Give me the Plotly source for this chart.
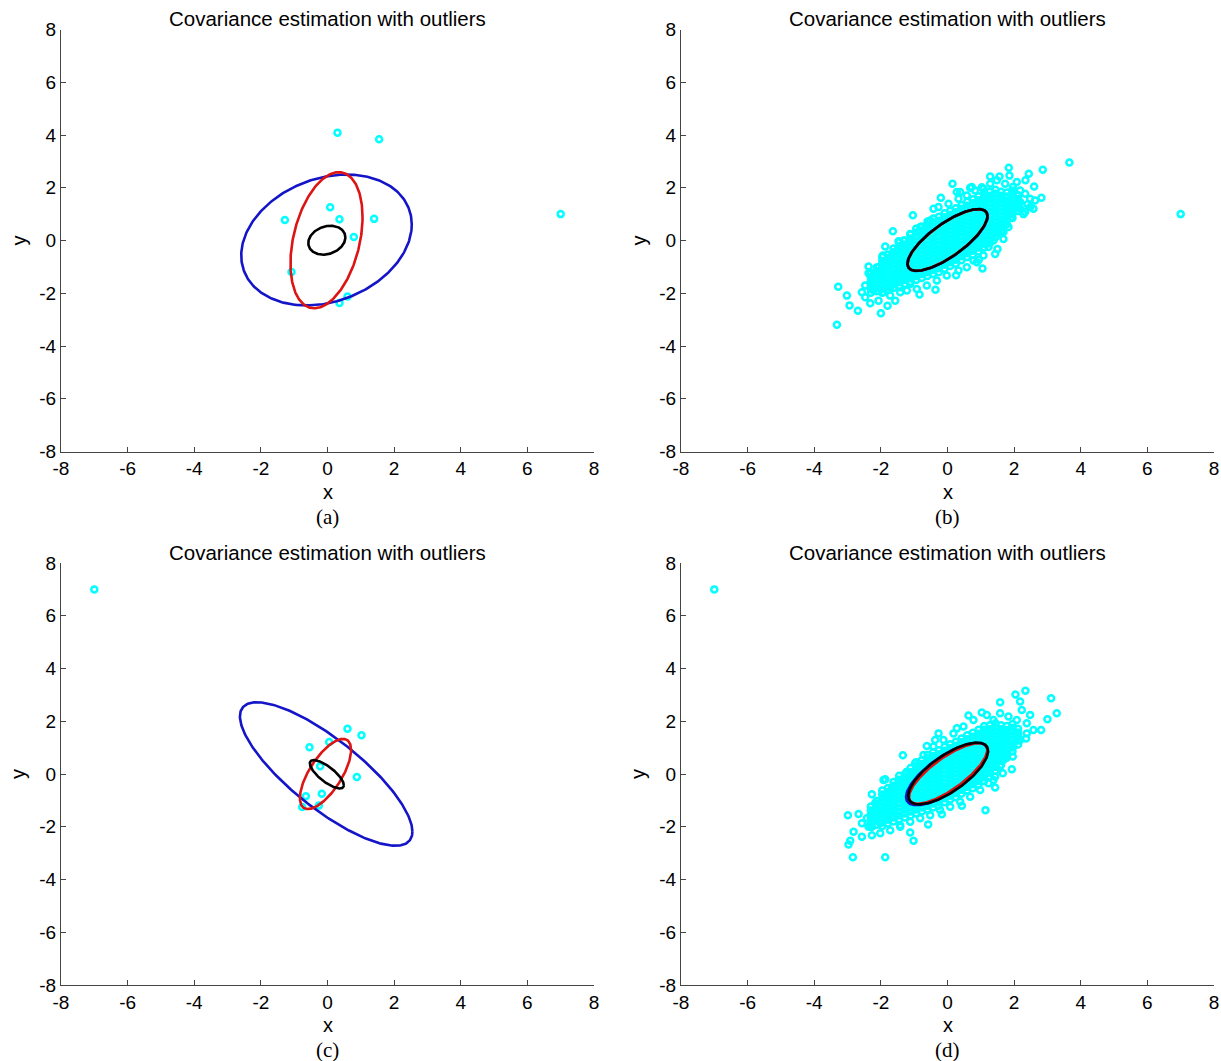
import numpy as np
import plotly.graph_objects as go

# ---------------- data ----------------
# panel (a): few inliers + outlier
a_x = [0.30, 1.55, 0.08, -1.28, 0.36, 1.40, 0.79, -1.08, 0.60, 0.36, 7.0]
a_y = [4.09, 3.84, 1.26, 0.78, 0.81, 0.82, 0.13, -1.19, -2.12, -2.37, 1.0]

# panel (c)
c_x = [0.60, 1.02, -0.54, 0.05, -0.22, 0.88, -0.17, -0.65, -0.26, -0.76, -7.0]
c_y = [1.72, 1.47, 1.01, 1.21, 0.29, -0.11, -0.75, -0.84, -1.19, -1.25, 7.0]

# panel (b): scattered (non-core) points
b_pts = [(3.66, 2.96), (2.86, 2.68), (1.84, 2.76), (2.44, 2.53), (1.28, 2.43), (1.56, 2.43), (1.86, 2.46),
         (0.15, 2.15), (2.60, 2.05), (2.34, 2.28), (2.08, 2.22), (2.82, 1.62), (2.63, 1.52), (2.40, 1.37),
         (2.28, 1.00), (2.58, 1.20), (-1.04, 0.96), (-0.20, 1.62), (0.28, 1.84), (0.68, 2.00), (1.03, 2.02),
         (-1.64, 0.35), (-1.47, -0.03), (-1.87, -0.23), (-1.94, -0.57), (-2.37, -0.99), (-2.37, -1.24),
         (-3.28, -1.75), (-3.02, -2.09), (-2.94, -2.46), (-2.69, -2.66), (-3.32, -3.19), (-2.00, -2.76),
         (-2.32, -2.38), (-2.47, -2.15), (-2.07, -2.28), (-1.80, -2.47), (-1.57, -2.28), (-1.72, -2.09),
         (-1.42, -1.96), (-1.22, -1.90), (-0.84, -2.05), (-0.36, -1.87), (0.26, -1.32), (1.05, -1.06),
         (0.78, -0.76), (0.94, -0.73), (1.43, -0.51), (1.50, -0.32), (1.68, 0.06), (1.53, 0.28), (1.68, 0.63),
         (1.43, 0.51), (1.78, 1.14), (2.03, 1.20), (2.18, 1.46),
         (1.28, 2.15), (1.48, 2.28), (1.73, 2.15), (1.96, 2.03), (2.18, 1.90), (2.33, 1.77), (2.48, 1.58),
         (2.18, 1.20), (2.33, 1.08), (2.48, 1.27), (1.93, 0.89), (1.83, 0.51), (1.68, 0.32), (1.38, 0.00),
         (1.23, -0.25), (1.08, -0.57), (0.88, -0.82), (0.58, -1.01), (0.33, -1.14), (-0.02, -1.33),
         (-0.32, -1.52), (-0.62, -1.71), (-0.92, -1.84), (-1.12, -1.65), (-1.42, -1.77), (-1.72, -1.77),
         (-1.92, -1.96), (-2.22, -1.90), (-2.47, -1.71), (-2.27, -1.52), (-2.57, -1.96), (-2.17, -1.33),
         (-2.07, -1.01), (-1.92, -0.82), (-1.72, -0.63), (-1.52, -0.38), (-1.32, 0.00), (-1.12, 0.25),
         (-0.82, 0.51), (-0.52, 0.76), (-0.42, 1.20), (-0.27, 1.27), (0.03, 1.39), (0.33, 1.58), (0.58, 1.71),
         (0.83, 1.90), (1.08, 1.96), (0.38, 1.84), (0.73, 2.03),
         (7.0, 1.0)]

# panel (d): scattered (non-core) points
d_pts = [(2.34, 3.16), (2.04, 3.01), (3.11, 2.87), (3.28, 2.30), (3.00, 2.08), (2.81, 1.67), (1.58, 2.72),
         (2.18, 2.75), (2.48, 2.24), (2.23, 2.43), (1.03, 2.33), (0.63, 2.22), (0.28, 1.73), (-0.27, 1.54),
         (-0.62, 1.06), (-1.34, 0.71), (-1.87, -0.20), (-2.27, -0.77), (-2.99, -1.56), (-2.67, -1.52),
         (-2.82, -2.19), (-2.92, -2.53), (-2.97, -2.67), (-2.84, -3.16), (-1.87, -3.16), (-2.57, -2.38),
         (-2.27, -2.32), (-1.02, -2.53), (-1.12, -2.22), (-0.58, -1.91), (-0.17, -1.53), (0.43, -1.20),
         (1.14, -1.37), (1.43, -0.51), (1.38, -0.23), (1.66, 0.03), (1.93, 0.18), (1.96, 0.66), (2.36, 1.35),
         (1.68, 0.53), (-2.42, -1.68), (-2.37, -2.00), (-2.02, -1.87), (-1.62, -1.62), (-1.42, -1.94),
         (1.58, 2.30), (1.83, 2.18), (2.08, 2.05), (2.38, 1.92), (2.58, 1.67), (2.38, 1.54), (2.18, 1.29),
         (1.98, 1.04), (1.78, 0.66), (1.58, 0.28), (1.43, -0.10), (1.23, -0.35), (0.98, -0.61), (0.68, -0.86),
         (0.38, -1.05), (0.08, -1.24), (-0.22, -1.37), (-0.52, -1.56), (-0.82, -1.68), (-1.12, -1.81),
         (-1.42, -2.00), (-1.72, -2.13), (-2.02, -2.25), (-2.27, -2.00), (-2.17, -1.62), (-2.02, -1.24),
         (-1.87, -0.86), (-1.67, -0.54), (-1.47, -0.23), (-1.22, 0.09), (-0.97, 0.41), (-0.72, 0.72),
         (-0.42, 1.04), (-0.12, 1.29), (0.18, 1.54), (0.48, 1.80), (0.78, 2.05), (1.18, 2.24), (1.38, 2.05),
         (-0.37, 1.29), (-1.92, -0.23), (-2.17, -1.11), (-2.57, -1.87),
         (-7.0, 7.0)]

# dense core of the inlier cloud (panels b and d), read column by column: (x, [y values])
core_cols = [
    (-2.30, [-1.98, -1.83, -1.68, -1.53, -1.38, -1.23]),
    (-2.13, [-1.92, -1.77, -1.62, -1.47, -1.32, -1.17, -1.02]),
    (-1.96, [-1.98, -1.83, -1.68, -1.53, -1.38, -1.23, -1.08, -0.93, -0.78, -0.63]),
    (-1.79, [-1.88, -1.73, -1.58, -1.43, -1.28, -1.13, -0.98, -0.83, -0.68, -0.53]),
    (-1.62, [-1.80, -1.65, -1.50, -1.35, -1.20, -1.05, -0.90, -0.75, -0.60, -0.45, -0.30]),
    (-1.45, [-1.72, -1.57, -1.42, -1.27, -1.12, -0.97, -0.82, -0.67, -0.52, -0.37, -0.22, -0.07]),
    (-1.28, [-1.65, -1.50, -1.35, -1.20, -1.05, -0.90, -0.75, -0.60, -0.45, -0.30, -0.15, 0.00]),
    (-1.11, [-1.57, -1.42, -1.27, -1.12, -0.97, -0.82, -0.67, -0.52, -0.37, -0.22, -0.07, 0.08, 0.23]),
    (-0.94, [-1.50, -1.35, -1.20, -1.05, -0.90, -0.75, -0.60, -0.45, -0.30, -0.15, 0.00, 0.15, 0.30, 0.45]),
    (-0.77, [-1.42, -1.27, -1.12, -0.97, -0.82, -0.67, -0.52, -0.37, -0.22, -0.07, 0.08, 0.23, 0.38, 0.53]),
    (-0.60, [-1.35, -1.20, -1.05, -0.90, -0.75, -0.60, -0.45, -0.30, -0.15, 0.00, 0.15, 0.30, 0.45, 0.60, 0.72]),
    (-0.43, [-1.27, -1.12, -0.97, -0.82, -0.67, -0.52, -0.37, -0.22, -0.07, 0.08, 0.23, 0.38, 0.53, 0.68, 0.83]),
    (-0.26, [-1.20, -1.05, -0.90, -0.75, -0.60, -0.45, -0.30, -0.15, 0.00, 0.15, 0.30, 0.45, 0.60, 0.75, 0.90]),
    (-0.09, [-1.07, -0.92, -0.77, -0.62, -0.47, -0.32, -0.17, -0.02, 0.13, 0.28, 0.43, 0.58, 0.73, 0.88, 1.03]),
    (0.08, [-0.97, -0.82, -0.67, -0.52, -0.37, -0.22, -0.07, 0.08, 0.23, 0.38, 0.53, 0.68, 0.83, 0.98, 1.13]),
    (0.25, [-0.88, -0.73, -0.58, -0.43, -0.28, -0.13, 0.02, 0.17, 0.32, 0.47, 0.62, 0.77, 0.92, 1.07, 1.22]),
    (0.42, [-0.75, -0.60, -0.45, -0.30, -0.15, 0.00, 0.15, 0.30, 0.45, 0.60, 0.75, 0.90, 1.05, 1.20, 1.35]),
    (0.59, [-0.63, -0.48, -0.33, -0.18, -0.03, 0.12, 0.27, 0.42, 0.57, 0.72, 0.87, 1.02, 1.17, 1.32, 1.47]),
    (0.76, [-0.54, -0.39, -0.24, -0.09, 0.06, 0.21, 0.36, 0.51, 0.66, 0.81, 0.96, 1.11, 1.26, 1.41, 1.56]),
    (0.93, [-0.42, -0.27, -0.12, 0.03, 0.18, 0.33, 0.48, 0.63, 0.78, 0.93, 1.08, 1.23, 1.38, 1.53, 1.68]),
    (1.10, [-0.27, -0.12, 0.03, 0.18, 0.33, 0.48, 0.63, 0.78, 0.93, 1.08, 1.23, 1.38, 1.53, 1.68, 1.82]),
    (1.27, [-0.10, 0.05, 0.20, 0.35, 0.50, 0.65, 0.80, 0.95, 1.10, 1.25, 1.40, 1.55, 1.70, 1.85]),
    (1.44, [0.12, 0.27, 0.42, 0.57, 0.72, 0.87, 1.02, 1.17, 1.32, 1.47, 1.62, 1.77, 1.92]),
    (1.61, [0.35, 0.50, 0.65, 0.80, 0.95, 1.10, 1.25, 1.40, 1.55, 1.70, 1.85]),
    (1.78, [0.62, 0.77, 0.92, 1.07, 1.22, 1.37, 1.52, 1.67, 1.82]),
    (1.95, [0.85, 1.00, 1.15, 1.30, 1.45, 1.60, 1.75, 1.90]),
    (2.12, [1.12, 1.27, 1.42, 1.57, 1.72]),
]

# covariance ellipses: (centre x, centre y, sxx, sxy, syy) per estimator
ell_a = {"blue": (-0.03, 0.02, 6.55, 1.50, 6.15),
         "red": (-0.03, 0.01, 1.17, 0.95, 6.66),
         "black": (-0.02, 0.01, 0.31, 0.06, 0.30)}
ell_b = {"blue": (0.0, 0.02, 1.46, 1.09, 1.38),
         "red": (0.0, 0.02, 1.43, 1.08, 1.36),
         "black": (0.0, 0.02, 1.44, 1.08, 1.37)}
ell_c = {"blue": (-0.04, 0.0, 6.70, -5.65, 7.40),
         "red": (-0.06, 0.0, 0.59, 0.70, 1.77),
         "black": (-0.02, -0.01, 0.26, -0.21, 0.29)}
ell_d = {"blue": (-0.02, 0.0, 1.50, 1.07, 1.40),
         "red": (0.02, 0.02, 1.38, 1.05, 1.32),
         "black": (0.02, 0.02, 1.44, 1.02, 1.37)}

title_text = "Covariance estimation with outliers"
panel_labels = ["(a)", "(b)", "(c)", "(d)"]
tick_vals = [-8, -6, -4, -2, 0, 2, 4, 6, 8]
tick_text = ["-8", "-6", "-4", "-2", "0", "2", "4", "6", "8"]

# ---------------- styling ----------------
W, H = 1221, 1061
line_colors = {"blue": "#1414c8", "red": "#dc1414", "black": "#000000"}
cyan = "#00ffff"
sans = "Arial, Liberation Sans, sans-serif"

# plot-area pixel boxes (left, right, top, bottom)
boxes = [(61, 594, 29.5, 451.5), (681, 1214, 29.5, 451.5),
         (61, 594, 563, 985), (681, 1214, 563, 985)]


def ellipse_xy(params):
    cx, cy, sxx, sxy, syy = params
    L = np.linalg.cholesky(np.array([[sxx, sxy], [sxy, syy]]))
    t = np.linspace(0, 2 * np.pi, 300)
    pts = L @ np.vstack([np.cos(t), np.sin(t)])
    return pts[0] + cx, pts[1] + cy


core_x = [x for x, ys in core_cols for _ in ys]
core_y = [y for _, ys in core_cols for y in ys]

panels = [
    (a_x, a_y, ell_a),
    ([p[0] for p in b_pts] + core_x, [p[1] for p in b_pts] + core_y, ell_b),
    (c_x, c_y, ell_c),
    ([p[0] for p in d_pts] + core_x, [p[1] for p in d_pts] + core_y, ell_d),
]

fig = go.Figure()
layout = dict(width=W, height=H, margin=dict(l=0, r=0, t=0, b=0, pad=0, autoexpand=False),
              paper_bgcolor="white", plot_bgcolor="white", showlegend=False,
              font=dict(family=sans, color="black"))
annotations = []

for i, (px, py, ells) in enumerate(panels):
    k = "" if i == 0 else str(i + 1)
    xa, ya = "x" + k, "y" + k
    fig.add_trace(go.Scatter(x=px, y=py, mode="markers", xaxis=xa, yaxis=ya, cliponaxis=False,
                             marker=dict(symbol="circle-open", size=6, color=cyan,
                                         line=dict(width=2.5, color=cyan))))
    for key in ["blue", "red", "black"]:
        ex, ey = ellipse_xy(ells[key])
        fig.add_trace(go.Scatter(x=ex, y=ey, mode="lines", xaxis=xa, yaxis=ya,
                                 line=dict(color=line_colors[key], width=2.6)))
    l, r, t, b = boxes[i]
    axis_common = dict(range=[-8, 8], tickvals=tick_vals, ticktext=tick_text, ticks="inside", ticklen=5,
                       tickcolor="#444", tickwidth=1, showline=True, linecolor="#444",
                       linewidth=1, mirror=False, showgrid=False, zeroline=False, automargin=False,
                       tickfont=dict(size=19, family=sans))
    layout["xaxis" + k] = dict(domain=[l / W, r / W], anchor=ya, **axis_common)
    layout["yaxis" + k] = dict(domain=[1 - b / H, 1 - t / H], anchor=xa, **axis_common)
    cxp = (l + r) / 2
    annotations.append(dict(text=title_text, x=cxp / W, y=1 - (t - 11) / H, xref="paper", yref="paper",
                            showarrow=False, xanchor="center", yanchor="middle",
                            font=dict(size=20.5, family=sans)))
    annotations.append(dict(text="x", x=cxp / W, y=1 - (b + 40) / H, xref="paper", yref="paper",
                            showarrow=False, xanchor="center", yanchor="middle",
                            font=dict(size=20, family=sans)))
    annotations.append(dict(text=panel_labels[i], x=cxp / W, y=1 - (b + 65) / H, xref="paper", yref="paper",
                            showarrow=False, xanchor="center", yanchor="middle",
                            font=dict(size=21, family="Liberation Serif, Times New Roman, serif")))
    annotations.append(dict(text="y", x=(l - 43) / W, y=1 - ((t + b) / 2) / H, xref="paper", yref="paper",
                            showarrow=False, xanchor="center", yanchor="middle", textangle=-90,
                            font=dict(size=20, family=sans)))

layout["annotations"] = annotations
fig.update_layout(**layout)
fig.write_html("out.html", config={"displayModeBar": False, "staticPlot": True},
               post_script="document.body.style.margin='0px';document.body.style.overflow='hidden';")
